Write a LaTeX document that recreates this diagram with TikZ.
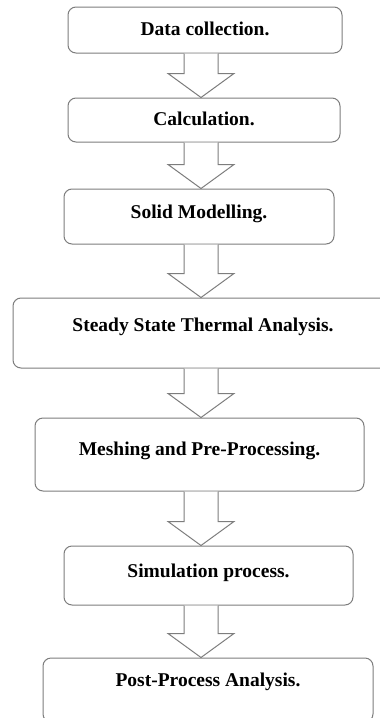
\documentclass[tikz,border=0pt]{standalone}
\usepackage{fontspec}
\setmainfont{Liberation Serif}
\usepackage{tikz}
\usetikzlibrary{calc}
\definecolor{boxline}{RGB}{125,125,125}
\tikzset{
  stepbox/.style={draw=boxline, line width=1pt, rounded corners=8pt,
    inner sep=0pt, text height=14pt, text depth=4pt,
    font=\fontsize{19.5}{22}\selectfont\bfseries},
  blockarrow/.style={draw=boxline, line width=1pt, fill=white, line join=miter}
}
% hollow block arrow from the bottom of one box to the top of the next
\newcommand{\flowarrow}[2]{%
  \coordinate (#1-out) at (#1.south -| spine);
  \coordinate (#2-in) at (#2.north -| spine);
  \draw[blockarrow] ([xshift=-17pt]#1-out) -- ([xshift=-17pt, yshift=24pt]#2-in)
    -- ([xshift=-33pt, yshift=24pt]#2-in) -- (#2-in)
    -- ([xshift=33pt, yshift=24pt]#2-in) -- ([xshift=17pt, yshift=24pt]#2-in)
    -- ([xshift=17pt]#1-out);
}

\begin{document}
\begin{tikzpicture}[x=1pt, y=-1pt]

  \useasboundingbox (0,0) rectangle (380,718);
  \clip (0,0) rectangle (380,718);
  \coordinate (spine) at (201,0);

  \node[stepbox, minimum width=274pt, minimum height=46pt] (data) at (205,30)
    {Data collection.};
  \node[stepbox, minimum width=272pt, minimum height=44pt] (calc) at (204,120)
    {Calculation.};
  \node[stepbox, minimum width=270pt, minimum height=55pt, text depth=11pt] (solid)
    at (199,216.5) {Solid Modelling.};
  \node[stepbox, minimum width=380pt, minimum height=70pt, text depth=17pt] (thermal)
    at (203,333) {Steady State Thermal Analysis.};
  \node[stepbox, minimum width=329pt, minimum height=73pt, text depth=12pt] (mesh)
    at (199.5,454.5) {Meshing and Pre-Processing.};
  \node[stepbox, minimum width=289pt, minimum height=59pt, text depth=11pt] (sim)
    at (208.5,575.5) {Simulation process.};
  \node[stepbox, minimum width=330pt, minimum height=64pt, text depth=21pt] (post)
    at (208,690) {Post-Process Analysis.};

  \flowarrow{data}{calc}
  \flowarrow{calc}{solid}
  \flowarrow{solid}{thermal}
  \flowarrow{thermal}{mesh}
  \flowarrow{mesh}{sim}
  \flowarrow{sim}{post}

\end{tikzpicture}
\end{document}
